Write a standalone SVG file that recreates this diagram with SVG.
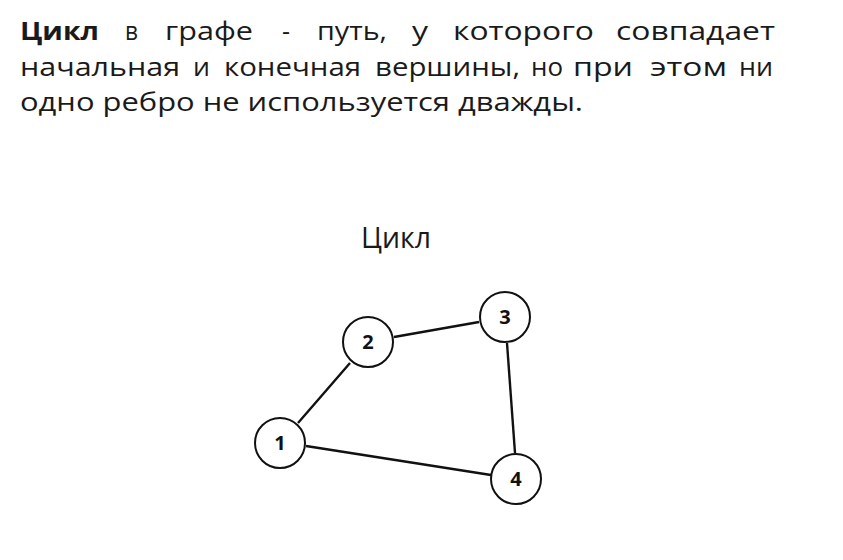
<svg xmlns="http://www.w3.org/2000/svg" width="843" height="560" viewBox="0 0 843 560">
<style>
.t{font-family:"Open Sans","Noto Sans",sans-serif;font-size:25px;fill:#1a1a1a}
.b{font-weight:bold}
.cap{font-family:"Open Sans","Noto Sans",sans-serif;font-size:30px;fill:#1a1a1a}
.node circle{fill:#fff;stroke:#111;stroke-width:2}
.node text{font-family:"Open Sans","Noto Sans",sans-serif;font-size:20px;font-weight:bold;fill:#111;text-anchor:middle}
.edge{stroke:#111;stroke-width:2.4;fill:none}
</style>
<rect width="843" height="560" fill="#fff"/>
<g id="heading">
<text class="t" y="40"><tspan class="b" x="20" textLength="79" lengthAdjust="spacingAndGlyphs">Цикл</tspan><tspan x="125" textLength="13" lengthAdjust="spacingAndGlyphs">в</tspan><tspan x="165" textLength="88" lengthAdjust="spacingAndGlyphs">графе</tspan><tspan x="282" textLength="8" lengthAdjust="spacingAndGlyphs">-</tspan><tspan x="317" textLength="70" lengthAdjust="spacingAndGlyphs">путь,</tspan><tspan x="412" textLength="16" lengthAdjust="spacingAndGlyphs">у</tspan><tspan x="453" textLength="141" lengthAdjust="spacingAndGlyphs">которого</tspan><tspan x="616" textLength="159" lengthAdjust="spacingAndGlyphs">совпадает</tspan></text>
<text class="t" y="76"><tspan x="20" textLength="160" lengthAdjust="spacingAndGlyphs">начальная</tspan><tspan x="193" textLength="17" lengthAdjust="spacingAndGlyphs">и</tspan><tspan x="224" textLength="137" lengthAdjust="spacingAndGlyphs">конечная</tspan><tspan x="375" textLength="145" lengthAdjust="spacingAndGlyphs">вершины,</tspan><tspan x="531" textLength="32" lengthAdjust="spacingAndGlyphs">но</tspan><tspan x="573" textLength="60" lengthAdjust="spacingAndGlyphs">при</tspan><tspan x="650" textLength="77" lengthAdjust="spacingAndGlyphs">этом</tspan><tspan x="739" textLength="34" lengthAdjust="spacingAndGlyphs">ни</tspan></text>
<text class="t" y="111" textLength="563" lengthAdjust="spacingAndGlyphs" x="20">одно ребро не используется дважды.</text>
</g>
<text id="caption" class="cap" x="361" y="248" textLength="70" lengthAdjust="spacingAndGlyphs">Цикл</text>
<g id="connectors">
<line class="edge" x1="394" y1="337" x2="479" y2="322"/>
<line class="edge" x1="507" y1="343" x2="515" y2="453"/>
<line class="edge" x1="350" y1="363" x2="298" y2="423"/>
<line class="edge" x1="306" y1="446" x2="491" y2="475"/>
</g>
<g id="n1" class="node"><circle cx="280" cy="443" r="25"/><text x="280" y="450">1</text></g>
<g id="n2" class="node"><circle cx="368" cy="342" r="25"/><text x="368" y="349">2</text></g>
<g id="n3" class="node"><circle cx="505" cy="317" r="25"/><text x="505" y="324">3</text></g>
<g id="n4" class="node"><circle cx="516" cy="479" r="25"/><text x="516" y="486">4</text></g>
</svg>
